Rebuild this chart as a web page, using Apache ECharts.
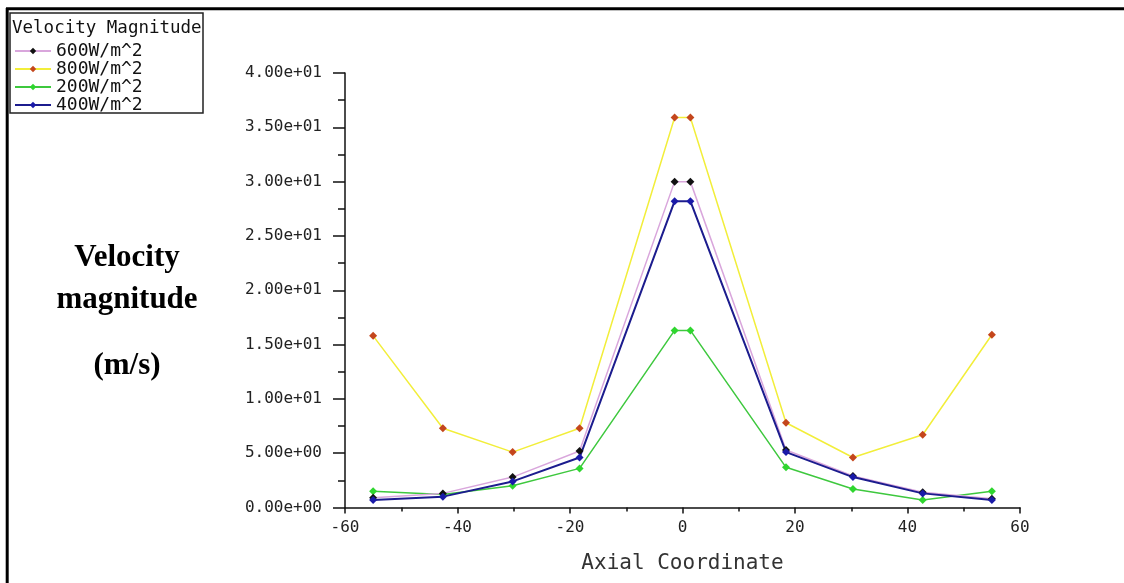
<!DOCTYPE html>
<html>
<head>
<meta charset="utf-8">
<script src="https://cdn.jsdelivr.net/npm/echarts@6.0.0/dist/echarts.min.js"></script>
<style>
  html, body { margin: 0; padding: 0; background: #fff; }
  #chart { width: 1124px; height: 583px; }
</style>
</head>
<body>
<div id="chart"></div>
<script>
// axial positions of the sample points
const axialCoords = [-55, -42.6, -30.2, -18.3, -1.4, 1.4, 18.4, 30.3, 42.7, 55];

// velocity magnitude (m/s) per heat flux
const flux600 = [0.9, 1.3, 2.8, 5.2, 30.0, 30.0, 5.3, 2.9, 1.4, 0.8];
const flux800 = [15.8, 7.3, 5.1, 7.3, 35.9, 35.9, 7.8, 4.6, 6.7, 15.9];
const flux200 = [1.5, 1.2, 2.0, 3.6, 16.3, 16.3, 3.7, 1.7, 0.7, 1.5];
const flux400 = [0.7, 1.0, 2.4, 4.6, 28.2, 28.2, 5.1, 2.8, 1.3, 0.7];

const legendNames = ['600W/m^2', '800W/m^2', '200W/m^2', '400W/m^2'];
const yTickLabels = ['0.00e+00', '5.00e+00', '1.00e+01', '1.50e+01', '2.00e+01',
                     '2.50e+01', '3.00e+01', '3.50e+01', '4.00e+01'];

const pairs = ys => axialCoords.map((x, i) => [x, ys[i]]);
const monoFont = 'DejaVu Sans Mono';

function lineSeries(name, ys, lineColor, markColor, width) {
  return {
    name: name,
    type: 'line',
    data: pairs(ys),
    symbol: 'diamond',
    symbolSize: 8,
    lineStyle: { color: lineColor, width: width },
    itemStyle: { color: markColor },
    emphasis: { disabled: true },
    animation: false
  };
}

const chart = echarts.init(document.getElementById('chart'), null, { renderer: 'canvas' });

chart.setOption({
  backgroundColor: '#fff',
  grid: { left: 345, right: 104, top: 73, bottom: 75.5 },
  legend: {
    data: legendNames,
    orient: 'vertical',
    left: 14,
    top: 42,
    padding: 0,
    itemGap: 0,
    itemWidth: 36,
    itemHeight: 8,
    textStyle: { fontFamily: monoFont, fontSize: 18, lineHeight: 17.5, color: '#111' }
  },
  xAxis: {
    type: 'value',
    min: -60,
    max: 60,
    interval: 20,
    name: 'Axial Coordinate',
    nameLocation: 'middle',
    nameGap: 46,
    nameTextStyle: { fontFamily: monoFont, fontSize: 21, color: '#333', verticalAlign: 'top' },
    axisLine: { onZero: false, lineStyle: { color: '#111', width: 1.5 } },
    axisTick: { length: 6, lineStyle: { color: '#111', width: 1.5 } },
    minorTick: { show: true, splitNumber: 2, length: 4, lineStyle: { color: '#111', width: 1.5 } },
    splitLine: { show: false },
    axisLabel: { margin: 12, fontFamily: monoFont, fontSize: 16, color: '#222' }
  },
  yAxis: {
    type: 'value',
    min: 0,
    max: 40,
    interval: 5,
    axisLine: { show: true, onZero: false, lineStyle: { color: '#111', width: 1.5 } },
    axisTick: { show: true, length: 12, lineStyle: { color: '#111', width: 1.5 } },
    minorTick: { show: true, splitNumber: 2, length: 7, lineStyle: { color: '#111', width: 1.5 } },
    splitLine: { show: false },
    axisLabel: {
      margin: 23,
      fontFamily: monoFont,
      fontSize: 16,
      color: '#222',
      formatter: v => yTickLabels[Math.round(v / 5)]
    }
  },
  series: [
    lineSeries('800W/m^2', flux800, '#f2ee3a', '#c4461c', 1.5),
    lineSeries('200W/m^2', flux200, '#3ec83e', '#2fd62f', 1.5),
    lineSeries('600W/m^2', flux600, '#d9a6dc', '#111111', 1.5),
    lineSeries('400W/m^2', flux400, '#1c1c8e', '#1a1aa8', 2)
  ],
  graphic: [
    // frame edges
    { type: 'line', shape: { x1: 6, y1: 8.7, x2: 1124, y2: 8.7 }, style: { stroke: '#000', lineWidth: 3 } },
    { type: 'line', shape: { x1: 7.2, y1: 8, x2: 7.2, y2: 583 }, style: { stroke: '#000', lineWidth: 3 } },
    // legend box + title
    { type: 'rect', shape: { x: 10, y: 13, width: 193, height: 100 },
      style: { fill: null, stroke: '#222', lineWidth: 1.5 } },
    { type: 'text', left: 12, top: 19,
      style: { text: 'Velocity Magnitude', font: '17.5px "DejaVu Sans Mono"', fill: '#111' } },
    // y axis title
    { type: 'text', x: 127, y: 258,
      style: { text: 'Velocity', font: 'bold 31px "Liberation Serif"', fill: '#000',
               textAlign: 'center', textVerticalAlign: 'middle' } },
    { type: 'text', x: 127, y: 300,
      style: { text: 'magnitude', font: 'bold 31px "Liberation Serif"', fill: '#000',
               textAlign: 'center', textVerticalAlign: 'middle' } },
    { type: 'text', x: 127, y: 366,
      style: { text: '(m/s)', font: 'bold 31px "Liberation Serif"', fill: '#000',
               textAlign: 'center', textVerticalAlign: 'middle' } }
  ]
});
</script>
</body>
</html>
